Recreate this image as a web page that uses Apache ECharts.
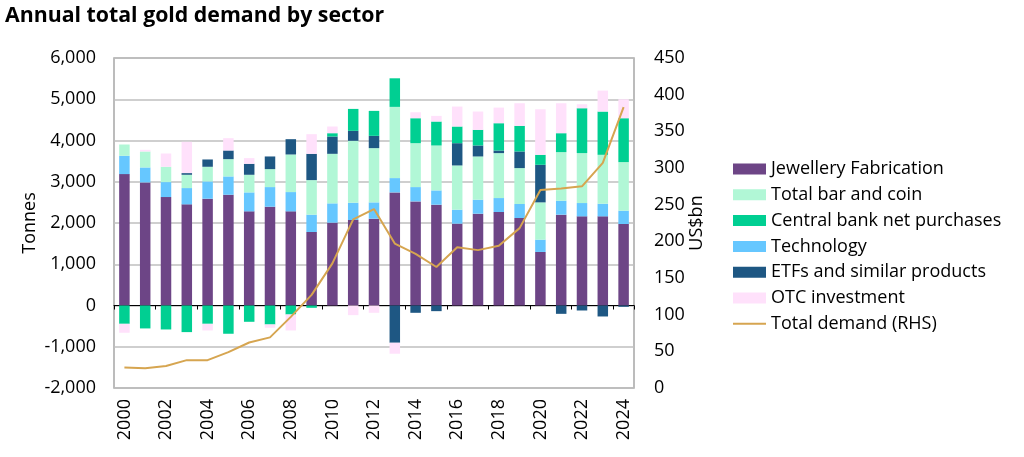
<!DOCTYPE html>
<html>
<head>
<meta charset="utf-8">
<script src="https://cdn.jsdelivr.net/npm/echarts@6/dist/echarts.min.js"></script>
<style>
html,body{margin:0;padding:0;background:#fff;}
#chart{width:1024px;height:457px;}
</style>
</head>
<body>
<div id="chart"></div>
<script>
const years = ['2000','2001','2002','2003','2004','2005','2006','2007','2008','2009','2010','2011','2012','2013','2014','2015','2016','2017','2018','2019','2020','2021','2022','2023','2024'];
const jewellery = [3185,2984,2629,2452,2589,2685,2282,2395,2282,1782,2008,2073,2105,2742,2524,2444,1984,2226,2266,2121,1298,2202,2161,2161,1976];
const technology = [444,363,363,395,419,444,460,476,468,420,468,419,395,347,347,346,339,339,339,339,299,338,323,307,322];
const barCoin = [274,387,371,322,355,419,427,435,911,838,1201,1500,1315,1726,1064,1089,1072,1048,1089,871,903,1178,1210,1185,1178];
const etfs = [0,0,0,41,177,210,266,307,371,637,420,242,298,-903,-177,-137,540,266,64,403,911,-202,-121,-266,-32];
const centralBank = [-444,-556,-581,-645,-444,-685,-395,-460,-218,-56,80,532,605,693,605,581,404,379,661,621,242,459,1088,1049,1064];
const otc = [-217,40,322,758,-161,298,138,-80,-387,476,162,-234,-177,-266,145,137,484,444,379,548,1105,726,97,508,460];
const totalDemandUsd = [28,27,30,38,38,49,62,69,97,127,170,230,244,197,183,165,192,188,194,218,270,272,275,307,383];

const FONT = '"Open Sans", "Noto Sans", sans-serif';
const chart = echarts.init(document.getElementById('chart'));
function barSeries(name, data, color) {
  return { name, type: 'bar', stack: 'demand', data, barWidth: 10.5,
    itemStyle: { color }, xAxisIndex: 0, yAxisIndex: 0 };
}
chart.setOption({
  animation: false,
  textStyle: { fontFamily: FONT },
  title: { text: 'Annual total gold demand by sector', left: 0, top: 0,
    textStyle: { fontFamily: FONT, fontWeight: 'bold', fontSize: 21.3, color: '#000' } },
  grid: { left: 114, right: 390, top: 58, bottom: 69, show: true, borderColor: '#A6A6A6', borderWidth: 1.5 },
  legend: {
    orient: 'vertical', left: 728, top: 154, itemWidth: 33, itemHeight: 11, itemGap: 5.8,
    textStyle: { fontFamily: FONT, fontSize: 18, color: '#000', lineHeight: 20 },
    data: [
      { name: 'Jewellery Fabrication', icon: 'rect' },
      { name: 'Total bar and coin', icon: 'rect' },
      { name: 'Central bank net purchases', icon: 'rect' },
      { name: 'Technology', icon: 'rect' },
      { name: 'ETFs and similar products', icon: 'rect' },
      { name: 'OTC investment', icon: 'rect' },
      { name: 'Total demand (RHS)', icon: 'path://M0,0 L33,0 L33,2 L0,2 Z' }
    ]
  },
  xAxis: [
    { type: 'category', data: years, position: 'bottom',
      axisLine: { show: false, onZero: false }, axisTick: { show: false },
      axisLabel: { rotate: 90, interval: 1, fontSize: 18, color: '#000', fontFamily: FONT, margin: 11 } },
    { type: 'category', data: years, position: 'bottom',
      axisLine: { show: true, onZero: true, onZeroAxisIndex: 0, lineStyle: { color: '#000', width: 1 } },
      axisTick: { show: true, length: 4, lineStyle: { color: '#000' } },
      axisLabel: { show: false } }
  ],
  yAxis: [
    { type: 'value', min: -2000, max: 6000, interval: 1000, position: 'left',
      name: 'Tonnes', nameLocation: 'middle', nameRotate: 90, nameGap: 75, nameMoveOverlap: false,
      nameTextStyle: { fontSize: 18, color: '#000', fontFamily: FONT },
      axisLine: { show: false }, axisTick: { show: false },
      axisLabel: { fontSize: 18, color: '#000', margin: 18, fontFamily: FONT,
        formatter: v => v.toLocaleString('en-US') },
      splitLine: { lineStyle: { color: '#BFBFBF', width: 1.5 } } },
    { type: 'value', min: 0, max: 450, interval: 50, position: 'right',
      name: 'US$bn', nameLocation: 'middle', nameRotate: 90, nameGap: 54, nameMoveOverlap: false,
      nameTextStyle: { fontSize: 18, color: '#000', fontFamily: FONT },
      axisLine: { show: false }, axisTick: { show: false },
      axisLabel: { fontSize: 18, color: '#000', margin: 20, fontFamily: FONT },
      splitLine: { show: false } }
  ],
  series: [
    barSeries('Jewellery Fabrication', jewellery, '#6D4586'),
    barSeries('Technology', technology, '#66C7FF'),
    barSeries('Total bar and coin', barCoin, '#B1F7D6'),
    barSeries('ETFs and similar products', etfs, '#1E5783'),
    barSeries('Central bank net purchases', centralBank, '#00CF92'),
    barSeries('OTC investment', otc, '#FFE1FB'),
    { name: 'Total demand (RHS)', type: 'line', data: totalDemandUsd, xAxisIndex: 0, yAxisIndex: 1,
      symbol: 'none', lineStyle: { color: '#D6A550', width: 2 }, itemStyle: { color: '#D6A550' }, z: 5 }
  ]
});
</script>
</body>
</html>
